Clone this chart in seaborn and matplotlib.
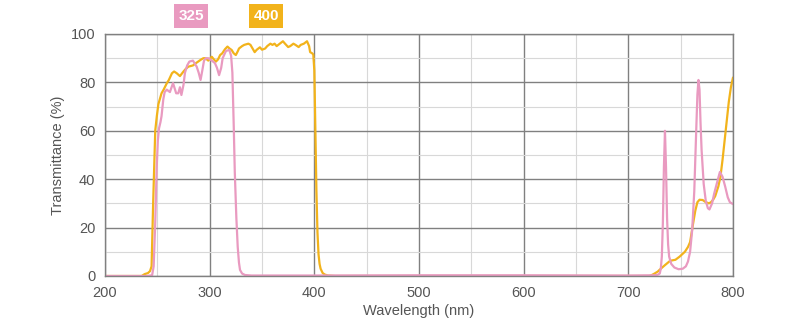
import pandas as pd
import seaborn as sns
import numpy as np
import matplotlib.pyplot as plt
from matplotlib.ticker import MultipleLocator

# 400 filter (yellow)
wl_400 = [200, 235, 238, 241, 243, 244.5, 246, 248, 249.5, 251, 254, 256, 259, 261, 264, 266,
          268.5, 271.6, 274.8, 277, 279.6, 284, 287, 289, 292, 294, 296, 298.7, 302, 304, 306,
          308, 310, 312, 314.6, 317, 319, 321, 323, 325, 327, 328, 331, 333, 337, 339, 341, 343,
          345, 348, 350, 353, 355, 358, 360, 362, 364, 367, 370, 372, 375, 377, 380, 382, 385,
          387, 390, 393, 395, 396, 398, 399, 400, 401, 402, 403, 404, 405, 406, 408, 410, 413,
          420, 500, 600, 700, 720, 722, 725, 728, 731, 735, 740, 745, 749, 754, 757, 759, 762,
          764, 766, 768, 771, 774, 777, 779, 781, 783, 786, 788, 790, 792, 794, 796, 798, 800]
tr_400 = [0, 0, 0.8, 1.2, 2, 4, 30, 60, 66, 71, 75.5, 77, 79.6, 81, 83.8, 84.5,
          83.8, 82.6, 84.4, 85.5, 86.5, 87, 88, 88.6, 89.5, 90, 90, 89, 90.6, 89.5, 88.6,
          89.5, 91.3, 92, 93.7, 94.8, 94, 93.4, 92, 91.3, 93, 94, 95, 95.5, 96, 95.5, 94, 92.5,
          93.5, 94.5, 93.5, 94, 95, 96, 95.5, 96, 95, 96, 97, 96, 94.6, 95, 96, 95.5, 94.6,
          95.5, 96, 97, 95, 92.5, 92, 91.5, 85, 60, 35, 18, 9, 5, 3, 1.2, 0.6, 0.2,
          0, 0, 0, 0, 0, 0.3, 1, 1.8, 3, 4.5, 6.3, 6.7, 8, 10, 12, 14, 22,
          27, 30.5, 31.5, 31.4, 30.5, 30, 30.5, 31.5, 33, 37, 41, 48, 56, 64, 72, 78, 82]

# 325 filter (pink)
wl_325 = [200, 240, 245, 246.5, 248, 249.4, 250.5, 251.6, 253, 254, 255.7, 257, 259, 262, 265,
          268, 270, 271.6, 273, 275, 276.4, 278.5, 280.6, 284, 287.6, 289.5, 291.3, 293, 294.6,
          296.5, 298.7, 302, 305, 307, 309, 311, 312.4, 315.6, 318.8, 320.5, 321.7, 323, 324,
          325.5, 326.8, 328, 329, 331, 333.8, 340, 400, 500, 600, 700, 725, 728, 730, 731, 732,
          733, 734, 735, 736, 737, 738, 739, 741, 744, 748, 752, 755, 757, 759, 761, 763, 765,
          766, 767, 768, 769, 770, 772, 774, 776, 777.5, 780, 782, 785, 787.5, 790, 792.5, 795,
          797, 800]
tr_325 = [0, 0, 0.3, 4, 22, 45, 56, 61, 63.6, 66, 73, 76, 77, 76, 79.7,
          75.5, 75.5, 78, 74.8, 79, 84, 87, 88.6, 89, 86.5, 84, 81, 85, 89,
          90, 90, 89, 88, 86, 83, 86, 90, 93, 93.4, 91, 84, 62, 43,
          24, 12, 5.5, 2.5, 1, 0.4, 0.2, 0.2, 0.3, 0.3, 0.2, 0.3, 0.5, 1, 3, 8,
          22, 45, 60, 45, 24, 13, 8, 5, 3.5, 2.8, 3, 4, 6, 10, 19, 35, 62,
          75, 81, 77, 63, 52, 38, 31, 28, 27.5, 30, 34, 39, 43, 41, 37, 32.5,
          30.5, 29.7]

series = ["400", "325"]
colors = {"400": "#F2B31B", "325": "#E99AC0"}

df = pd.concat([
    pd.DataFrame({"wl": wl_400, "tr": tr_400, "filter": "400"}),
    pd.DataFrame({"wl": wl_325, "tr": tr_325, "filter": "325"}),
])

sns.set_theme(style="white")
plt.rcParams['font.family'] = ['Liberation Sans', 'DejaVu Sans']

fig = plt.figure(figsize=(8, 3.25), dpi=100)
ax = fig.add_axes([0.13125, 0.1508, 0.785, 0.7446])

sns.lineplot(data=df, x="wl", y="tr", hue="filter", hue_order=series,
             palette=colors, linewidth=1.6, legend=False, ax=ax, sort=False)

ax.set_xlim(200, 800)
ax.set_ylim(0, 100)
ax.xaxis.set_major_locator(MultipleLocator(100))
ax.xaxis.set_minor_locator(MultipleLocator(50))
ax.yaxis.set_major_locator(MultipleLocator(20))
ax.yaxis.set_minor_locator(MultipleLocator(10))
ax.grid(which="major", color="#808080", linewidth=1.0)
ax.grid(which="minor", color="#d8d8d8", linewidth=0.8)
ax.set_axisbelow(True)
for s in ax.spines.values():
    s.set_color("#808080")
    s.set_linewidth(1.0)
ax.tick_params(which="both", length=0, labelsize=10.5, colors="#555555", pad=7)

ax.set_xlabel("Wavelength (nm)", fontsize=10.5, color="#555555", labelpad=3)
ax.set_ylabel("Transmittance (%)", fontsize=10.5, color="#555555", labelpad=4)

# legend boxes
for label, xpos in [("325", 191 / 800), ("400", 266 / 800)]:
    fig.text(xpos, 1 - 16 / 325, label, ha="center", va="center", fontsize=11,
             fontweight="bold", color="white",
             bbox=dict(boxstyle="square,pad=0.3", fc=colors[label], ec="none"))

fig.savefig("out.png", dpi=100)
